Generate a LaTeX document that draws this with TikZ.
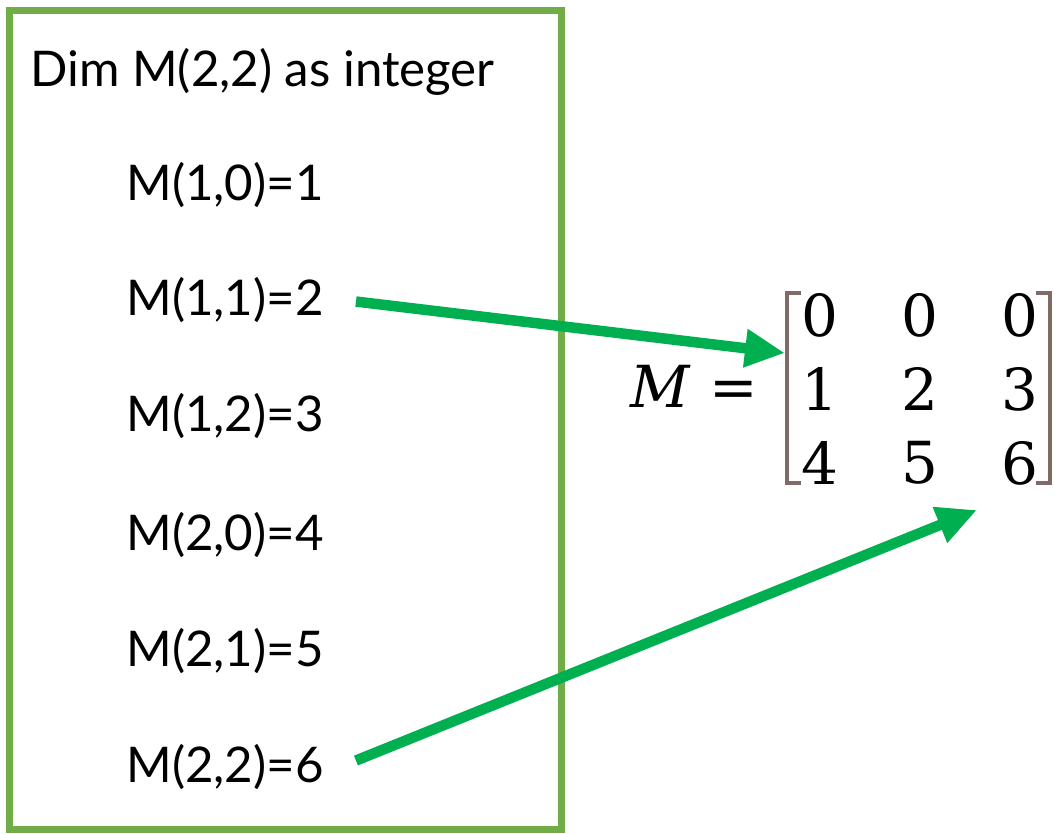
\documentclass[tikz,border=0pt]{standalone}
\usepackage{fontspec}
\setmainfont{Lato}
\newfontfamily\matfont{DejaVu Serif}
\usetikzlibrary{matrix,arrows.meta}
\definecolor{boxgreen}{HTML}{70AD47}
\definecolor{arrowgreen}{HTML}{00B050}
\definecolor{brackbrown}{HTML}{7F6A65}

\begin{document}
\begin{tikzpicture}[x=0.02cm,y=-0.02cm,
  code/.style={anchor=base west,inner sep=0pt,font=\fontsize{28}{34}\selectfont},
  cell/.style={minimum width=2cm,minimum height=1.48cm,inner sep=0pt,
               anchor=center,font=\matfont\fontsize{33}{38}\selectfont},
  link/.style={draw=arrowgreen,line width=0.21cm,
               -{Triangle[length=0.8cm,width=0.72cm]}},
  brack/.style={draw=brackbrown,line width=0.07cm}]
  \useasboundingbox (0,0) rectangle (1055,833);
  \draw[boxgreen,line width=0.14cm] (9.5,10.5) rectangle (561,829.5);
  \node[code] (dim) at (30,86) {Dim M(2,2) as integer};
  \node[code] (l1) at (126,200) {M(1,0)=1};
  \node[code] (l2) at (126,315) {M(1,1)=2};
  \node[code] (l3) at (126,431) {M(1,2)=3};
  \node[code] (l4) at (126,550) {M(2,0)=4};
  \node[code] (l5) at (126,666) {M(2,1)=5};
  \node[code] (l6) at (126,782) {M(2,2)=6};
  \matrix (mat) [matrix of nodes,nodes={cell},column sep=0pt,row sep=0pt]
    at (920,389) {
    0 & 0 & 0 \\
    1 & 2 & 3 \\
    4 & 5 & 6 \\
  };
  \node[anchor=base east,inner sep=0pt,font=\matfont\fontsize{33}{38}\selectfont]
    (lhs) at (758,407) {\itshape M\upshape\,\,=};
  \draw[brack] (801,293) -- (787,293) -- (787,483) -- (801,483);
  \draw[brack] (1036,293) -- (1050,293) -- (1050,483) -- (1036,483);
  \coordinate (in1) at (785,353);
  \coordinate (in2) at (977,510);
  \draw[link] ([xshift=0.64cm,yshift=-0.04cm]l2.east) -- (in1);
  \draw[link] ([xshift=0.64cm,yshift=0.12cm]l6.east) -- (in2);
\end{tikzpicture}
\end{document}
